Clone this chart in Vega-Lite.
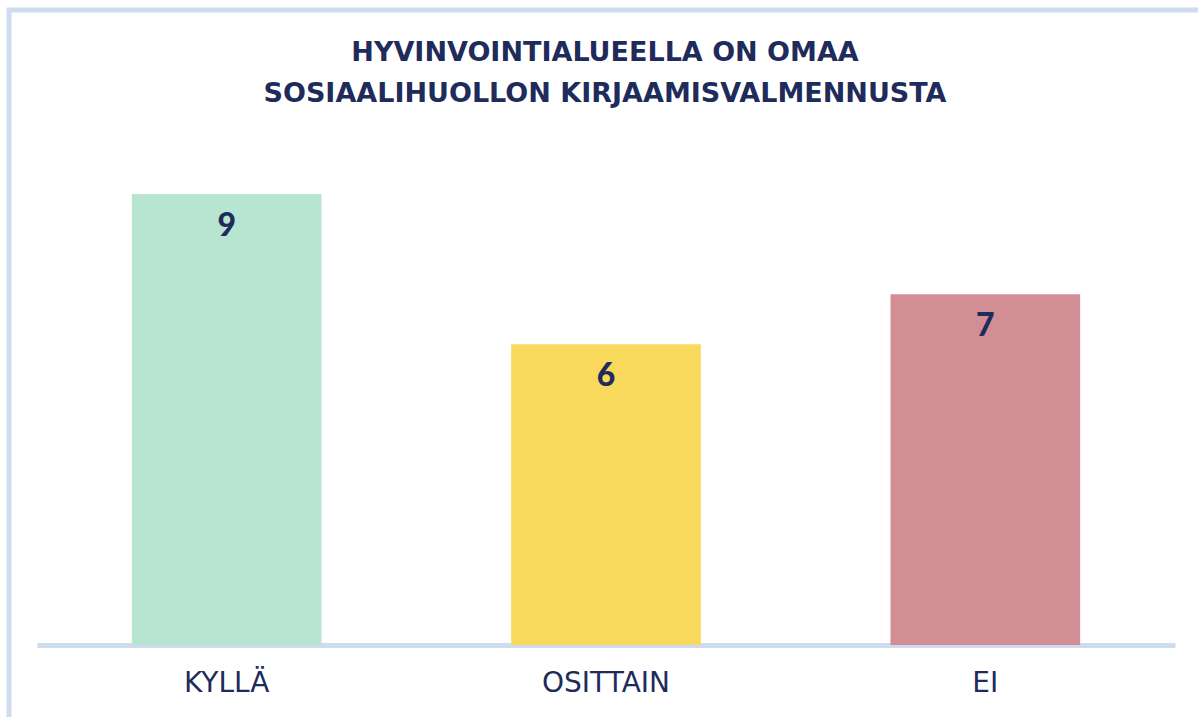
{
  "$schema": "https://vega.github.io/schema/vega-lite/v6.json",
  "autosize": {"type": "none"},
  "padding": {"left": 9, "top": 10, "right": 0, "bottom": 0},
  "width": 1192,
  "height": 710,
  "background": "#ffffff",
  "config": {
    "view": {"stroke": "#cddcee", "strokeWidth": 5},
    "font": "Lato"
  },
  "title": {
    "text": ["HYVINVOINTIALUEELLA ON OMAA", "SOSIAALIHUOLLON KIRJAAMISVALMENNUSTA"],
    "orient": "top",
    "anchor": "middle",
    "baseline": "middle",
    "offset": -111,
    "font": "DejaVu Sans",
    "fontSize": 27,
    "fontWeight": "bold",
    "color": "#1e2b5b",
    "lineHeight": 41
  },
  "data": {
    "values": [
      {"vastaus": "KYLLÄ", "lukumaara": 9},
      {"vastaus": "OSITTAIN", "lukumaara": 6},
      {"vastaus": "EI", "lukumaara": 7}
    ]
  },
  "encoding": {
    "x": {
      "field": "vastaus",
      "type": "nominal",
      "sort": null,
      "scale": {"range": [28, 1166], "paddingInner": 0.5, "paddingOuter": 0.25},
      "axis": {
        "title": null,
        "labelAngle": 0,
        "ticks": false,
        "tickSize": 0,
        "domainColor": "#cddcee",
        "domainWidth": 5,
        "offset": -75,
        "labelPadding": 38,
        "labelBaseline": "middle",
        "labelFont": "DejaVu Sans",
        "labelFontSize": 28,
        "labelColor": "#1e2b5b",
        "grid": false
      }
    },
    "y": {
      "field": "lukumaara",
      "type": "quantitative",
      "scale": {"domain": [0, 9], "range": [635, 184], "nice": false, "zero": true},
      "axis": null
    }
  },
  "layer": [
    {
      "mark": {"type": "bar"},
      "encoding": {
        "color": {
          "field": "vastaus",
          "type": "nominal",
          "scale": {"domain": ["KYLLÄ", "OSITTAIN", "EI"], "range": ["#b8e5d2", "#f9d95c", "#d18e95"]},
          "legend": null
        }
      }
    },
    {
      "mark": {"type": "text", "baseline": "middle", "align": "center", "dy": 32, "font": "Lato", "fontSize": 32, "fontWeight": 900, "color": "#1e2b5b"},
      "encoding": {"text": {"field": "lukumaara", "type": "quantitative"}}
    }
  ]
}
